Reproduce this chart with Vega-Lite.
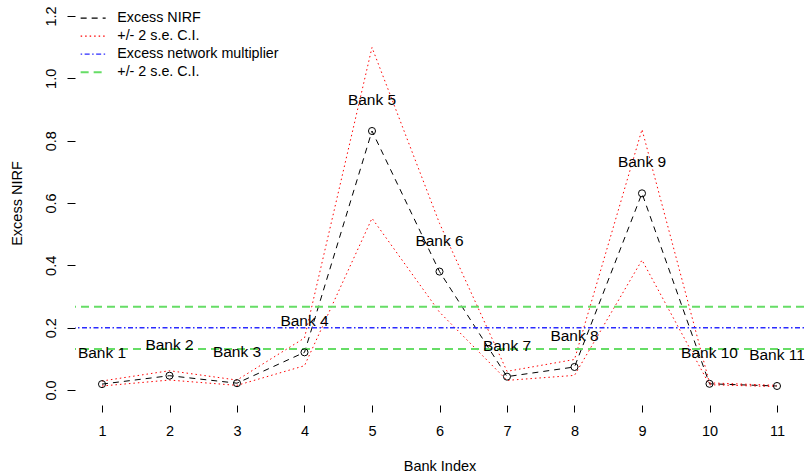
{
  "$schema": "https://vega.github.io/schema/vega-lite/v6.json",
  "width": 729,
  "height": 404,
  "autosize": {"type": "none"},
  "padding": {"left": 75, "top": 1, "right": 3, "bottom": 67},
  "background": "white",
  "config": {
    "view": {"stroke": null},
    "font": "Liberation Sans",
    "axis": {"grid": false, "domain": false, "tickColor": "black", "labelColor": "black", "titleColor": "black", "labelFont": "Liberation Sans", "titleFont": "Liberation Sans", "titleFontWeight": "normal", "labelFontSize": 14.5, "titleFontSize": 14.5},
    "legend": {"labelFontWeight": "normal", "labelLimit": 0}
  },
  "datasets": {
    "banks": [
      {"bank": 1, "label": "Bank 1", "nirf": 0.019, "upper": 0.029, "lower": 0.013},
      {"bank": 2, "label": "Bank 2", "nirf": 0.046, "upper": 0.062, "lower": 0.032},
      {"bank": 3, "label": "Bank 3", "nirf": 0.022, "upper": 0.032, "lower": 0.015},
      {"bank": 4, "label": "Bank 4", "nirf": 0.121, "upper": 0.167, "lower": 0.078},
      {"bank": 5, "label": "Bank 5", "nirf": 0.831, "upper": 1.099, "lower": 0.551},
      {"bank": 6, "label": "Bank 6", "nirf": 0.380, "upper": 0.535, "lower": 0.25},
      {"bank": 7, "label": "Bank 7", "nirf": 0.043, "upper": 0.060, "lower": 0.031},
      {"bank": 8, "label": "Bank 8", "nirf": 0.074, "upper": 0.098, "lower": 0.047},
      {"bank": 9, "label": "Bank 9", "nirf": 0.631, "upper": 0.836, "lower": 0.417},
      {"bank": 10, "label": "Bank 10", "nirf": 0.020, "upper": 0.023, "lower": 0.017},
      {"bank": 11, "label": "Bank 11", "nirf": 0.013, "upper": 0.015, "lower": 0.011}
    ],
    "hlines": [
      {"series": "mult", "value": 0.2},
      {"series": "ci_mult", "value": 0.267},
      {"series": "ci_mult", "value": 0.132}
    ]
  },
  "layer": [
    {
      "mark": {"type": "rule", "color": "#555", "strokeWidth": 1.2},
      "encoding": {"y": {"datum": 0, "type": "quantitative"}}
    },
    {
      "mark": {"type": "rule", "color": "black", "strokeWidth": 1},
      "encoding": {
        "x": {"datum": 0.6, "type": "quantitative"},
        "y": {"datum": 0, "type": "quantitative"},
        "y2": {"datum": 1.2}
      }
    },
    {
      "mark": {"type": "rule", "color": "#333", "strokeWidth": 1},
      "encoding": {
        "x": {"datum": 1, "type": "quantitative"},
        "x2": {"datum": 11},
        "y": {"datum": -0.048, "type": "quantitative"}
      }
    },
    {
      "data": {"name": "banks"},
      "transform": [{"fold": ["nirf", "upper", "lower"], "as": ["series", "value"]}],
      "mark": {"type": "line", "strokeWidth": 1},
      "encoding": {
        "x": {
          "field": "bank", "type": "quantitative",
          "scale": {"domain": [0.6, 11.4], "nice": false, "zero": false},
          "axis": {"values": [1,2,3,4,5,6,7,8,9,10,11], "format": "d", "title": "Bank Index", "tickSize": 7, "labelPadding": 12, "titleBaseline": "top", "titleY": 54, "offset": 0, "labelFlush": false}
        },
        "y": {
          "field": "value", "type": "quantitative",
          "scale": {"domain": [-0.048, 1.248], "nice": false, "zero": false},
          "axis": {"values": [0, 0.2, 0.4, 0.6, 0.8, 1.0, 1.2], "format": ".1f", "title": "Excess NIRF", "tickSize": 8, "labelAngle": -90, "labelAlign": "center", "labelBaseline": "bottom", "labelPadding": 9, "titleBaseline": "alphabetic", "titleX": -54, "labelFlush": false}
        },
        "color": {
          "field": "series", "type": "nominal",
          "scale": {"domain": ["nirf", "upper", "lower", "mult", "ci_mult"], "range": ["black", "#ff0000", "#ff0000", "#2b2bff", "#66dd66"]},
          "legend": {
            "title": null, "orient": "none", "legendX": 11, "legendY": 10,
            "values": ["nirf", "upper", "mult", "ci_mult"],
            "labelExpr": "{'nirf':'Excess NIRF','upper':'+/- 2 s.e. C.I.','lower':'+/- 2 s.e. C.I.','mult':'Excess network multiplier','ci_mult':'+/- 2 s.e. C.I.'}[datum.value]",
            "symbolType": "stroke", "symbolSize": 625, "labelFontSize": 14.3, "labelFont": "Liberation Sans", "labelFontWeight": "normal", "labelLimit": 0, "labelColor": "black", "labelOffset": 17, "rowPadding": 3, "padding": 0,
            "encode": {"symbols": {"update": {"strokeWidth": {"signal": "datum.value === 'ci_mult' ? 2 : 1.2"}}}}
          }
        },
        "strokeDash": {
          "field": "series", "type": "nominal",
          "scale": {"domain": ["nirf", "upper", "lower", "mult", "ci_mult"], "range": [[6, 5], [1.5, 3], [1.5, 3], [1.5, 2.5, 5, 2.5], [8, 5]]},
          "legend": {
            "title": null, "orient": "none", "legendX": 11, "legendY": 10,
            "values": ["nirf", "upper", "mult", "ci_mult"],
            "labelExpr": "{'nirf':'Excess NIRF','upper':'+/- 2 s.e. C.I.','lower':'+/- 2 s.e. C.I.','mult':'Excess network multiplier','ci_mult':'+/- 2 s.e. C.I.'}[datum.value]",
            "symbolType": "stroke", "symbolSize": 625, "labelFontSize": 14.3, "labelFont": "Liberation Sans", "labelFontWeight": "normal", "labelLimit": 0, "labelColor": "black", "labelOffset": 17, "rowPadding": 3, "padding": 0,
            "encode": {"symbols": {"update": {"strokeWidth": {"signal": "datum.value === 'ci_mult' ? 2 : 1.2"}}}}
          }
        }
      }
    },
    {
      "data": {"name": "hlines"},
      "transform": [{"filter": "datum.series === 'mult'"}],
      "mark": {"type": "rule", "strokeWidth": 1.5},
      "encoding": {
        "y": {"field": "value", "type": "quantitative"},
        "color": {"field": "series", "type": "nominal"},
        "strokeDash": {"field": "series", "type": "nominal"}
      }
    },
    {
      "data": {"name": "hlines"},
      "transform": [{"filter": "datum.series === 'ci_mult'"}],
      "mark": {"type": "rule", "strokeWidth": 2},
      "encoding": {
        "y": {"field": "value", "type": "quantitative"},
        "color": {"field": "series", "type": "nominal"},
        "strokeDash": {"field": "series", "type": "nominal"}
      }
    },
    {
      "data": {"name": "banks"},
      "mark": {"type": "point", "shape": "circle", "filled": false, "color": "black", "size": 50, "strokeWidth": 1, "opacity": 1},
      "encoding": {
        "x": {"field": "bank", "type": "quantitative"},
        "y": {"field": "nirf", "type": "quantitative"}
      }
    },
    {
      "data": {"name": "banks"},
      "mark": {"type": "text", "fontSize": 15.5, "font": "Liberation Sans", "color": "black", "align": "center", "baseline": "middle", "dy": -31},
      "encoding": {
        "x": {"field": "bank", "type": "quantitative"},
        "y": {"field": "nirf", "type": "quantitative"},
        "text": {"field": "label"}
      }
    }
  ]
}
